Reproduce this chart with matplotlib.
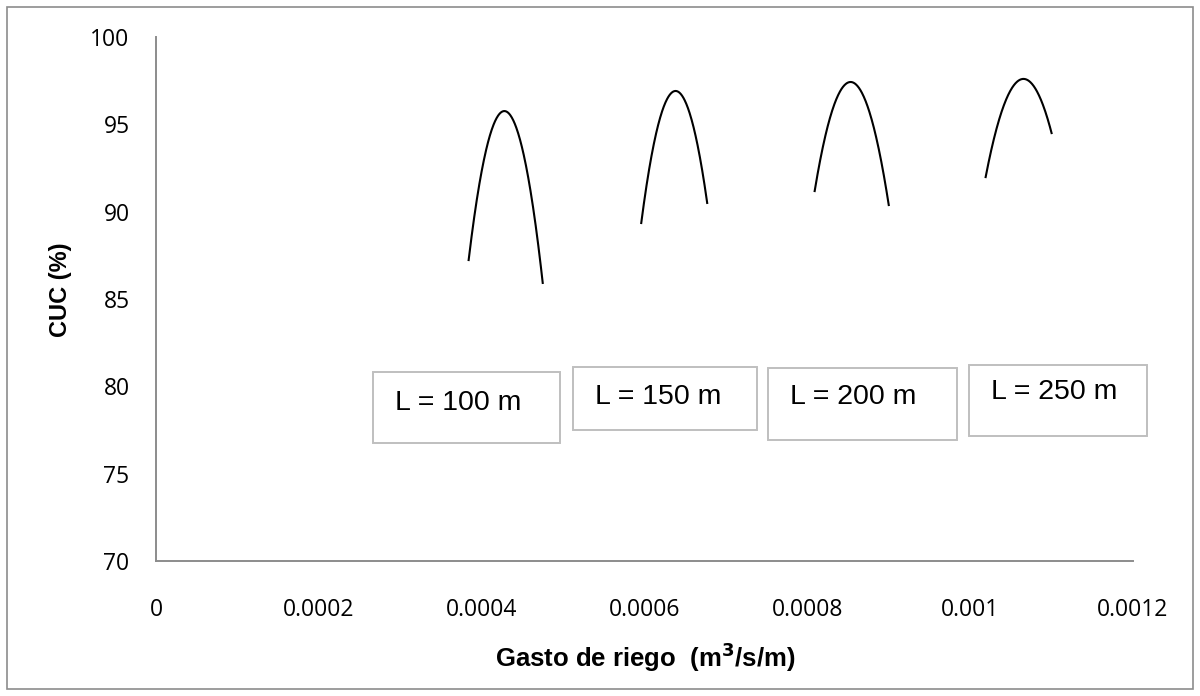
import numpy as np
import matplotlib
matplotlib.use("Agg")
import matplotlib.pyplot as plt
from matplotlib.patches import Rectangle

# values (gasto de riego, CUC): start, peak, end of each curve
labels = ["L = 100 m", "L = 150 m", "L = 200 m", "L = 250 m"]
q_100 = [0.000384, 0.000428, 0.000475]
cuc_100 = [87.23, 95.76, 85.92]
q_150 = [0.000596, 0.000638, 0.000677]
cuc_150 = [89.35, 96.91, 90.50]
q_200 = [0.000809, 0.000852, 0.000900]
cuc_200 = [91.18, 97.42, 90.38]
q_250 = [0.001019, 0.001065, 0.001100]
cuc_250 = [91.98, 97.60, 94.50]
x_ticks = [0, 0.0002, 0.0004, 0.0006, 0.0008, 0.001, 0.0012]
x_ticklabels = ["0", "0.0002", "0.0004", "0.0006", "0.0008", "0.001", "0.0012"]
y_ticks = [70, 75, 80, 85, 90, 95, 100]

W, H = 1200, 696
fig = plt.figure(figsize=(12, 6.96), dpi=100)

def fx(px):
    return px / W

def fy(py):
    return 1 - py / H

ax = fig.add_axes([fx(156), fy(561), fx(1133) - fx(156), fy(37) - fy(561)])

# quadratic trendlines, as in the original spreadsheet chart
series = [(q_100, cuc_100), (q_150, cuc_150), (q_200, cuc_200), (q_250, cuc_250)]
for q, cuc in series:
    coef = np.polyfit(q, cuc, 2)
    xs = np.linspace(min(q), max(q), 200)
    ax.plot(xs, np.polyval(coef, xs), color="black", lw=1.5)

ax.set_xlim(0, 0.0012)
ax.set_ylim(70, 100)
ax.set_xticks(x_ticks)
ax.set_xticklabels(x_ticklabels)
ax.set_yticks(y_ticks)
ax.tick_params(length=0, labelsize=16.5)
ax.tick_params(axis="x", pad=27)
ax.tick_params(axis="y", pad=19)
for lab in ax.get_xticklabels() + ax.get_yticklabels():
    lab.set_fontfamily("Open Sans")

for side in ["top", "right"]:
    ax.spines[side].set_visible(False)
for side in ["left", "bottom"]:
    ax.spines[side].set_color("#8c8c8c")
    ax.spines[side].set_linewidth(1.4)

fig.text(fx(645), fy(657), r"Gasto de riego  (m$^\mathbf{3}$/s/m)", ha="center", va="center",
         fontsize=18.5, fontweight="bold", family="Liberation Sans")
fig.text(fx(60), fy(290), "CUC (%)", ha="center", va="center", rotation=90,
         fontsize=17, fontweight="bold", family="Liberation Sans")

# text boxes (pixel positions: left, top, right, bottom, text centre y)
boxes = [(373, 372, 560, 443, 403), (573, 367, 757, 430, 397),
         (768, 368, 957, 440, 397), (969, 365, 1147, 436, 392)]
for lab, (l, t, r, b, ty) in zip(labels, boxes):
    fig.patches.append(Rectangle((fx(l), fy(b)), fx(r) - fx(l), fy(t) - fy(b),
                                 transform=fig.transFigure, fill=False,
                                 edgecolor="#bfbfbf", lw=1.4))
    fig.text(fx(l + 22), fy(ty), lab, ha="left", va="center",
             fontsize=20.5, family="Liberation Sans")

# chart area border
fig.patches.append(Rectangle((fx(7), fy(689)), fx(1193) - fx(7), fy(7) - fy(689),
                             transform=fig.transFigure, fill=False,
                             edgecolor="#8c8c8c", lw=1.2))

fig.savefig("out.png", dpi=100)
